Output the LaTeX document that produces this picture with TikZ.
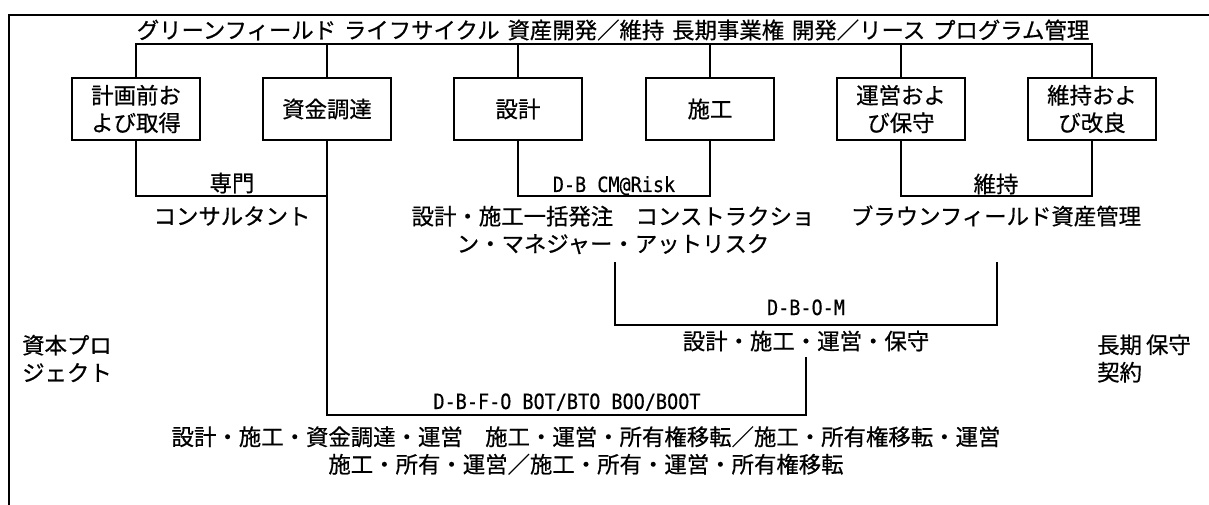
\documentclass[tikz,border=0pt]{standalone}
\usepackage{fontspec}
\setmainfont{Noto Sans CJK JP}[FakeBold=0.6]
\newfontfamily\latnfont{DejaVu Sans Mono}[FakeStretch=0.88,FakeBold=0.4]
\newcommand\jpsz{\fontsize{22.4}{27.5}\selectfont}
\newcommand\ltsz{\latnfont\fontsize{21}{24}\selectfont}
\begin{document}
\begin{tikzpicture}[x=1pt,y=-1pt,
  every node/.style={inner sep=0pt,font=\jpsz},
  box/.style={draw,line width=1.5pt,minimum width=128pt,minimum height=62pt,align=center},
  conn/.style={line width=1.4pt},
  frameline/.style={line width=1.4pt},
  lt/.style={font=\ltsz,anchor=base},
  multi/.style={align=center}]
\useasboundingbox (0,0) rectangle (1209,505);
% frame
\draw[frameline] (9,505) |- (1209,15);
% title
\node (title) at (613,30) {グリーンフィールド\hspace{0.35em}ライフサイクル\hspace{0.35em}資産開発／維持\hspace{0.35em}長期事業権\hspace{0.35em}開発／リース\hspace{0.35em}プログラム管理};
\coordinate (tl) at (613,44);
% boxes
\node[box] (b1) at (136,109) {計画前お\\よび取得};
\node[box] (b2) at (327,109) {資金調達};
\node[box] (b3) at (518,109) {設計};
\node[box] (b4) at (710,109) {施工};
\node[box] (b5) at (901,109) {運営およ\\び保守};
\node[box] (b6) at (1092,109) {維持およ\\び改良};
\draw[conn] (b1.north) |- (tl) -| (b6.north);
\foreach \b in {b2,b3,b4,b5} \draw[conn] (\b.north) -- (\b.north |- tl);
% level 2
\coordinate (r2) at (0,196);
\node (senmon) at (232,183) {専門};
\node (consul) at (232,216) {コンサルタント};
\node[lt] (dbcmlbl) at (614,192) {D-B CM@Risk};
\node[multi] (dbcm) at (613,230) {設計・施工一括発注　コンストラクショ\\ン・マネジャー・アットリスク};
\node (iji) at (996,184) {維持};
\node (brown) at (996,216) {ブラウンフィールド資産管理};
\draw[conn] (b1.south) |- (b2.south |- r2);
\draw[conn] (b3.south) |- (b4.south |- r2) -- (b4.south);
\draw[conn] (b5.south) |- (b6.south |- r2) -- (b6.south);
% D-B-O-M
\coordinate (dbomL) at (615,262);
\coordinate (dbomR) at (997,262);
\coordinate (dbomY) at (0,325);
\node[lt] (dbomlbl) at (806,315) {D-B-O-M};
\node (dbom) at (806,341) {設計・施工・運営・保守};
\draw[conn] (dbomL) |- (dbomR |- dbomY) -- (dbomR);
% D-B-F-O
\coordinate (dbfoR) at (806,357);
\coordinate (dbfoY) at (0,415);
\node[lt] (dbfolbl) at (567,409) {D-B-F-O BOT/BTO BOO/BOOT};
\node[multi] (dbfo) at (586,450.5) {設計・施工・資金調達・運営　施工・運営・所有権移転／施工・所有権移転・運営\\施工・所有・運営／施工・所有・運営・所有権移転};
\draw[conn] (b2.south) |- (dbfoR |- dbfoY) -- (dbfoR);
% side labels
\node[align=left,anchor=west] (capital) at (22,358.5) {資本プロ\\ジェクト};
\node[align=left,anchor=west] (ltm) at (1097,358.5) {長期\hspace{4pt}保守\\契約};
\end{tikzpicture}
\end{document}
